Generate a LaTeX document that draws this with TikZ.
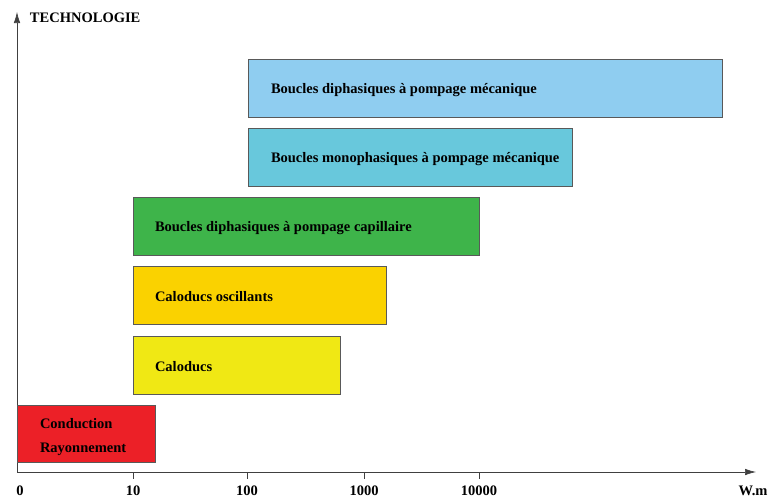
\documentclass[tikz,border=0pt]{standalone}
\usepackage{fontspec}
\setmainfont{Liberation Serif}
\usetikzlibrary{arrows.meta, positioning}

\definecolor{meca blue}{RGB}{143,205,240}
\definecolor{mono cyan}{RGB}{104,200,220}
\definecolor{capi green}{RGB}{62,180,74}
\definecolor{osci gold}{RGB}{250,210,0}
\definecolor{calo yellow}{RGB}{240,232,20}
\definecolor{cond red}{RGB}{236,32,39}

\begin{document}
\begin{tikzpicture}[x=1pt,y=-1pt,font=\bfseries\fontsize{14.5}{16}\selectfont]
\tikzset{every node/.style={inner sep=0pt, outer sep=0pt}}

\tikzstyle{bar}=[draw=black!65,semithick,anchor=north west,minimum height=58pt]
\tikzstyle{bar text}=[anchor=west,yshift=-2pt]
\tikzstyle{axis}=[-{Latex[length=11pt,width=6.5pt]}, draw=black!75, semithick]
\tikzstyle{tick}=[draw=black!75, semithick]

\useasboundingbox (0,0) rectangle (769,499);

% axes
\coordinate (origin) at (17,472);
\coordinate (y end) at (17,12);
\coordinate (x end) at (756,472);
\draw[axis] (origin) -- (y end);
\draw[axis] (origin) -- (x end);
\node[anchor=west] (y label) at (30,18) {TECHNOLOGIE};
\node[anchor=north] (x label) at (753,486) {W.m};

% ticks
\node[anchor=north] (zero label) at (20,486) {0};
\foreach \x/\t in {133/10, 247/100, 364/1000, 479/10000} {
    \coordinate (tick \t) at (\x,472);
    \draw[tick] (tick \t) -- ++(0,7);
    \node[anchor=north] (label \t) at (\x,486) {\t};
};

% bars
\node[bar, fill=meca blue, minimum width=474pt] (dipha meca) at (248,59) {};
\node[bar, fill=mono cyan, minimum width=324pt] (mono meca) at (248,128) {};
\node[bar, fill=capi green, minimum width=346pt] (dipha capi) at (133,197) {};
\node[bar, fill=osci gold, minimum width=253pt] (calo osci) at (133,266) {};
\node[bar, fill=calo yellow, minimum width=207pt] (calo) at (133,336) {};
\node[bar, fill=cond red, minimum width=138pt, minimum height=57pt] (cond) at (17,405) {};

\node[bar text, right=23pt of dipha meca.west] (dipha meca text) {Boucles diphasiques à pompage mécanique};
\node[bar text, right=23pt of mono meca.west] (mono meca text) {Boucles monophasiques à pompage mécanique};
\node[bar text, right=22pt of dipha capi.west] (dipha capi text) {Boucles diphasiques à pompage capillaire};
\node[bar text, right=22pt of calo osci.west] (calo osci text) {Caloducs oscillants};
\node[bar text, right=22pt of calo.west] (calo text) {Caloducs};
\node[bar text, yshift=-2pt, align=left, right=23pt of cond.west] (cond text) {Conduction\\[8pt]Rayonnement};

\end{tikzpicture}
\end{document}
